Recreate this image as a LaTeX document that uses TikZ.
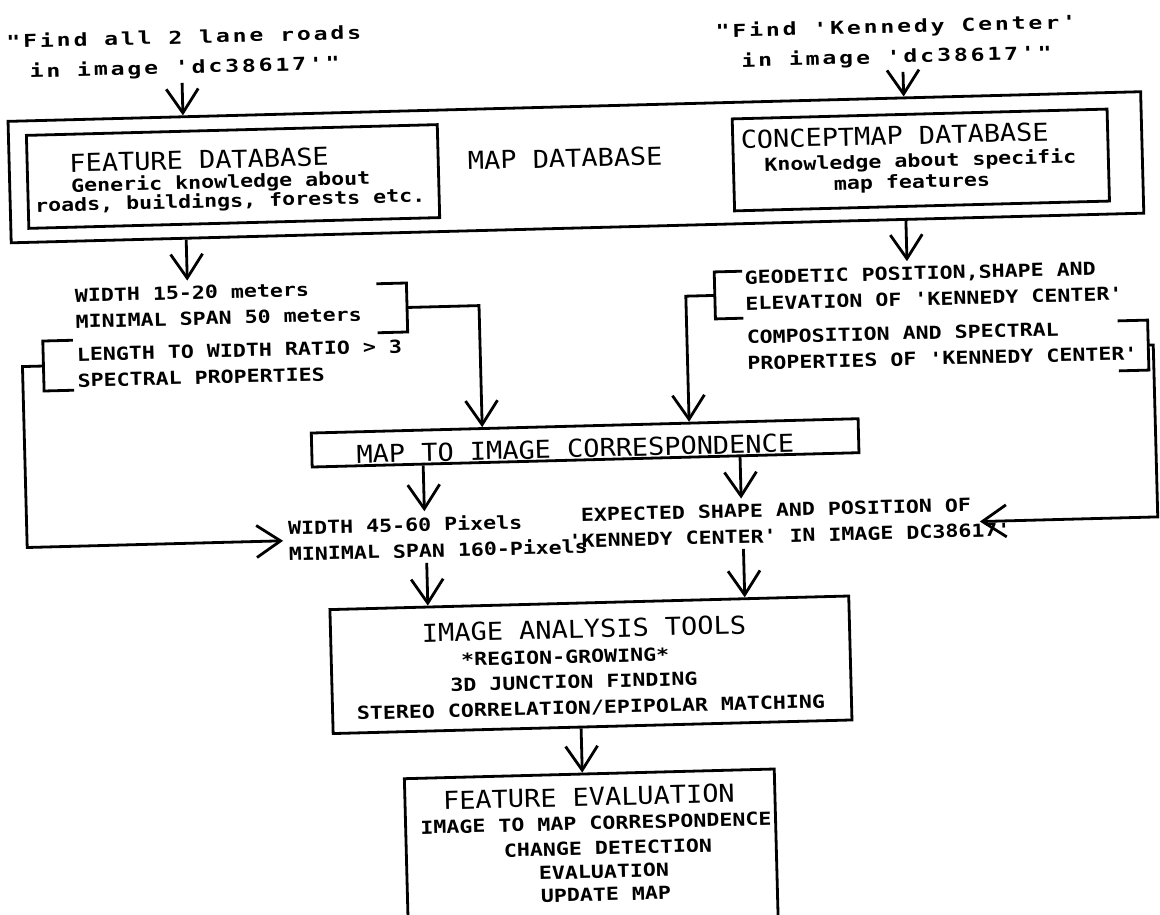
\documentclass[tikz,border=0pt]{standalone}
\usepackage{fontspec}
\usetikzlibrary{arrows.meta}
\newfontfamily\plotfont[FakeStretch=1.2]{DejaVu Sans Mono}
\newfontfamily\headfont[FakeStretch=1.09]{DejaVu Sans Mono}
\newfontfamily\quotefont[FakeStretch=1.3,LetterSpace=16]{DejaVu Sans Mono}

\tikzstyle{box} = [rectangle, draw, inner sep=0pt]
\tikzstyle{txt} = [font=\plotfont\bfseries\fontsize{18}{26}\selectfont, align=left, inner sep=4pt]
\tikzstyle{txtline} = [font=\plotfont\bfseries\fontsize{18}{26}\selectfont, inner sep=0pt,
    text height=13pt, text depth=3pt]
\tikzstyle{headtxt} = [font=\headfont\fontsize{24.7}{30}\selectfont, inner sep=0pt,
    text height=18pt, text depth=0pt]
\tikzstyle{qtext} = [font=\quotefont\bfseries\fontsize{17.8}{30}\selectfont, align=center, inner sep=4pt]
\tikzstyle{brk} = [line join=miter]
\tikzstyle{arr} = [-{Straight Barb[length=24pt,width=32pt]}]

\begin{document}
\begin{tikzpicture}[x=1pt, y=-1pt, line width=2.8pt]
\useasboundingbox (0,0) rectangle (1160,915);
\clip (0,0) rectangle (1160,915);
\begin{scope}[transform canvas={rotate around={1.5:(580,457)}}]
	\node [qtext] (qroads) at (195,43) {"Find all 2 lane roads\\in image 'dc38617'"};
	\node [qtext] (qkc) at (907,51) {"Find 'Kennedy Center'\\in image 'dc38617'"};
	%
	\node [box, minimum width=1133pt, minimum height=121.5pt] (mapdb) at (583.5,167.25) {};
	\node [box, minimum width=411pt, minimum height=93pt] (featdb) at (240.5,167.5) {};
	\node [box, minimum width=375pt, minimum height=92pt] (conceptdb) at (928.5,169) {};
	\node [headtxt] (mapdbt) at (573,158) {MAP DATABASE};
	\node [headtxt] (featdbt) at (207,150) {FEATURE DATABASE};
	\node [txtline] (featdba) at (228,174) {Generic knowledge about};
	\node [txtline] (featdbb) at (237,193) {roads, buildings, forests etc.};
	\node [headtxt] (conceptdbt) at (903,144) {CONCEPTMAP DATABASE};
	\node [txtline] (conceptdba) at (928,171) {Knowledge about specific};
	\node [txtline] (conceptdbb) at (919,192) {map features};
	%
	\node [txt, anchor=west] (roadgeo) at (74,295.6) {WIDTH 15-20 meters\\MINIMAL SPAN 50 meters};
	\node [txt, anchor=west] (roadspec) at (74.5,354.5) {LENGTH TO WIDTH RATIO > 3\\SPECTRAL PROPERTIES};
	\node [txt, anchor=west] (kcgeo) at (744,295) {GEODETIC POSITION,SHAPE AND\\ELEVATION OF 'KENNEDY CENTER'};
	\node [txt, anchor=west] (kcspec) at (744.5,354.8) {COMPOSITION AND SPECTRAL\\PROPERTIES OF 'KENNEDY CENTER'};
	\draw [brk] (381,278.5) -- (411,278.5) -- (411,327.5) -- (381,327.5);
	\draw [brk] (76,327) -- (46,327) -- (46,377) -- (76,377);
	\draw [brk] (747,275.5) -- (719,275.5) -- (719,322.5) -- (747,322.5);
	\draw [brk] (1121,335) -- (1151,335) -- (1151,385) -- (1121,385);
	\coordinate (brgeo) at (411,303);
	\coordinate (brspec) at (46,352);
	\coordinate (brkc) at (719,299);
	\coordinate (brkcs) at (1151,360);
	%
	\node [box, minimum width=547pt, minimum height=34pt] (m2i) at (585.5,443) {};
	\node [headtxt, anchor=base] (m2it) at (575.5,457.5) {MAP TO IMAGE CORRESPONDENCE};
	%
	\node [txt, anchor=west] (roadpix) at (281,533) {WIDTH 45-60 Pixels\\MINIMAL SPAN 160-Pixels};
	\node [txt, anchor=west] (kcpix) at (561,528) {\hspace*{13pt}EXPECTED SHAPE AND POSITION OF\\'KENNEDY CENTER' IN IMAGE DC38617'};
	\coordinate (kcend) at (978,532);
	%
	\node [box, minimum width=519pt, minimum height=124pt] (tools) at (585.5,665) {};
	\node [headtxt] (toolst) at (579.5,629) {IMAGE ANALYSIS TOOLS};
	\node [txtline] (toolsa) at (560,658) {*REGION-GROWING*};
	\node [txtline] (toolsb) at (568,683) {3D JUNCTION FINDING};
	\node [txtline] (toolsc) at (584.4,709) {STEREO CORRELATION/EPIPOLAR MATCHING};
	%
	\node [box, minimum width=370pt, minimum height=186pt] (evalbox) at (581,867) {};
	\node [headtxt] (evalt) at (580,797) {FEATURE EVALUATION};
	\node [txtline] (evala) at (586.4,825) {IMAGE TO MAP CORRESPONDENCE};
	\node [txtline] (evalb) at (597.8,850) {CHANGE DETECTION};
	\node [txtline] (evalc) at (593,873.5) {EVALUATION};
	\node [txtline] (evald) at (594.5,896.5) {UPDATE MAP};
	%
	\draw [arr] (qroads.south -| 192,0) -- (mapdb.north -| 192,0);
	\draw [arr] (qkc.south -| 913,0) -- (mapdb.north -| 913,0);
	\draw [arr] (mapdb.south -| 192,0) -- (roadgeo.north -| 192,0);
	\draw [arr] (mapdb.south -| 912,0) -- (kcgeo.north -| 912,0);
	\draw [arr] (brgeo) -| (m2i.north -| 483,0);
	\draw [arr] (brspec) -- ++(-21,0) |- (roadpix.west);
	\draw [arr] (brkc) -| (m2i.north -| 690,0);
	\draw [arr] (brkcs) -- ++(5,0) |- (kcend);
	\draw [arr] (m2i.south -| 423,0) -- (roadpix.north -| 423,0);
	\draw [arr] (m2i.south -| 740,0) -- (kcpix.north -| 740,0);
	\draw [arr] (roadpix.south -| 424,0) -- (tools.north -| 424,0);
	\draw [arr] (kcpix.south -| 741,0) -- (tools.north -| 741,0);
	\draw [arr] (tools.south -| 574,0) -- (evalbox.north -| 574,0);
\end{scope}
\end{tikzpicture}
\end{document}
